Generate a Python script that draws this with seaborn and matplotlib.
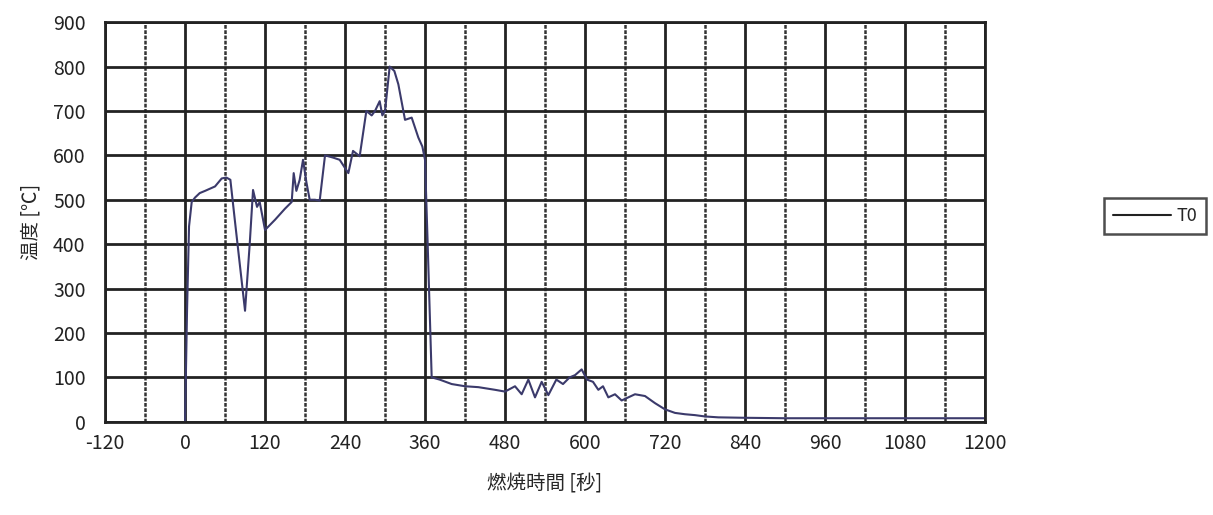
import matplotlib
matplotlib.use('Agg')
import matplotlib.pyplot as plt
import seaborn as sns
import pandas as pd
from matplotlib.ticker import MultipleLocator

# T0 thermocouple reading
time_s = [0, 3, 6, 10, 15, 22, 30, 45, 55, 62, 68, 75, 90, 97, 102, 108, 112, 120,
          135, 150, 160, 163, 167, 172, 177, 182, 187, 195, 202, 210, 222, 232, 245,
          252, 262, 272, 280, 285, 292, 296, 300, 307, 314, 320, 330, 340, 350, 356,
          360, 364, 370, 382, 400, 420, 440, 465, 480, 495, 505, 515, 525, 535, 545,
          557, 567, 577, 585, 595, 603, 612, 620, 627, 635, 645, 655, 665, 675, 690,
          705, 720, 735, 750, 765, 780, 800, 840, 900, 960, 1020, 1080, 1140, 1200]
temp_c = [0, 250, 440, 495, 505, 515, 520, 530, 548, 550, 545, 450, 250, 400, 522, 484, 495, 432,
          455, 480, 495, 560, 520, 545, 590, 540, 500, 500, 498, 600, 595, 590, 560,
          610, 598, 700, 690, 700, 722, 690, 700, 800, 790, 760, 680, 685, 640, 620,
          590, 400, 100, 95, 85, 80, 78, 72, 68, 80, 62, 95, 55, 90, 60,
          95, 85, 100, 105, 118, 95, 90, 72, 80, 55, 62, 48, 55, 62, 58,
          42, 28, 20, 17, 15, 12, 10, 9, 8, 8, 8, 8, 8, 8]

df = pd.DataFrame({'time': time_s, 'temp': temp_c})

sns.set_style('white')
plt.rcParams['font.family'] = ['Noto Sans CJK JP', 'DejaVu Sans']

fig = plt.figure(figsize=(12.13, 5.15), dpi=100)
ax = fig.add_axes([0.0866, 0.181, 0.7254, 0.776])

sns.lineplot(data=df, x='time', y='temp', ax=ax, color='#3b3a6b', linewidth=1.5, label='T0')

ax.set_xlim(-120, 1200)
ax.set_ylim(0, 900)
ax.xaxis.set_major_locator(MultipleLocator(120))
ax.xaxis.set_minor_locator(MultipleLocator(60))
ax.yaxis.set_major_locator(MultipleLocator(100))
ax.set_xticklabels([str(int(v)) for v in ax.get_xticks()])

ax.grid(which='major', axis='both', color='#222222', linewidth=2.0)
ax.grid(which='minor', axis='x', color='#333333', linewidth=1.8, linestyle=(0, (1.5, 0.6)))
ax.set_axisbelow(True)
for s in ax.spines.values():
    s.set_color('#222222')
    s.set_linewidth(2.0)

ax.tick_params(axis='both', which='both', length=0, labelsize=14, colors='#222222')
ax.tick_params(axis='y', pad=14)
ax.tick_params(axis='x', pad=8)
ax.set_xlabel('燃焼時間 [秒]', fontsize=14, labelpad=14)
ax.set_ylabel('温度 [℃]', fontsize=14, labelpad=8)

leg = ax.legend(loc='center left', bbox_to_anchor=(1.125, 0.515), frameon=True, fancybox=False,
                edgecolor='#222222', fontsize=13, handlelength=3.2, borderpad=0.5,
                handletextpad=0.3)
leg.get_frame().set_linewidth(1.8)
for line in leg.get_lines():
    line.set_color('#222222')

fig.savefig('out.png', dpi=100)
